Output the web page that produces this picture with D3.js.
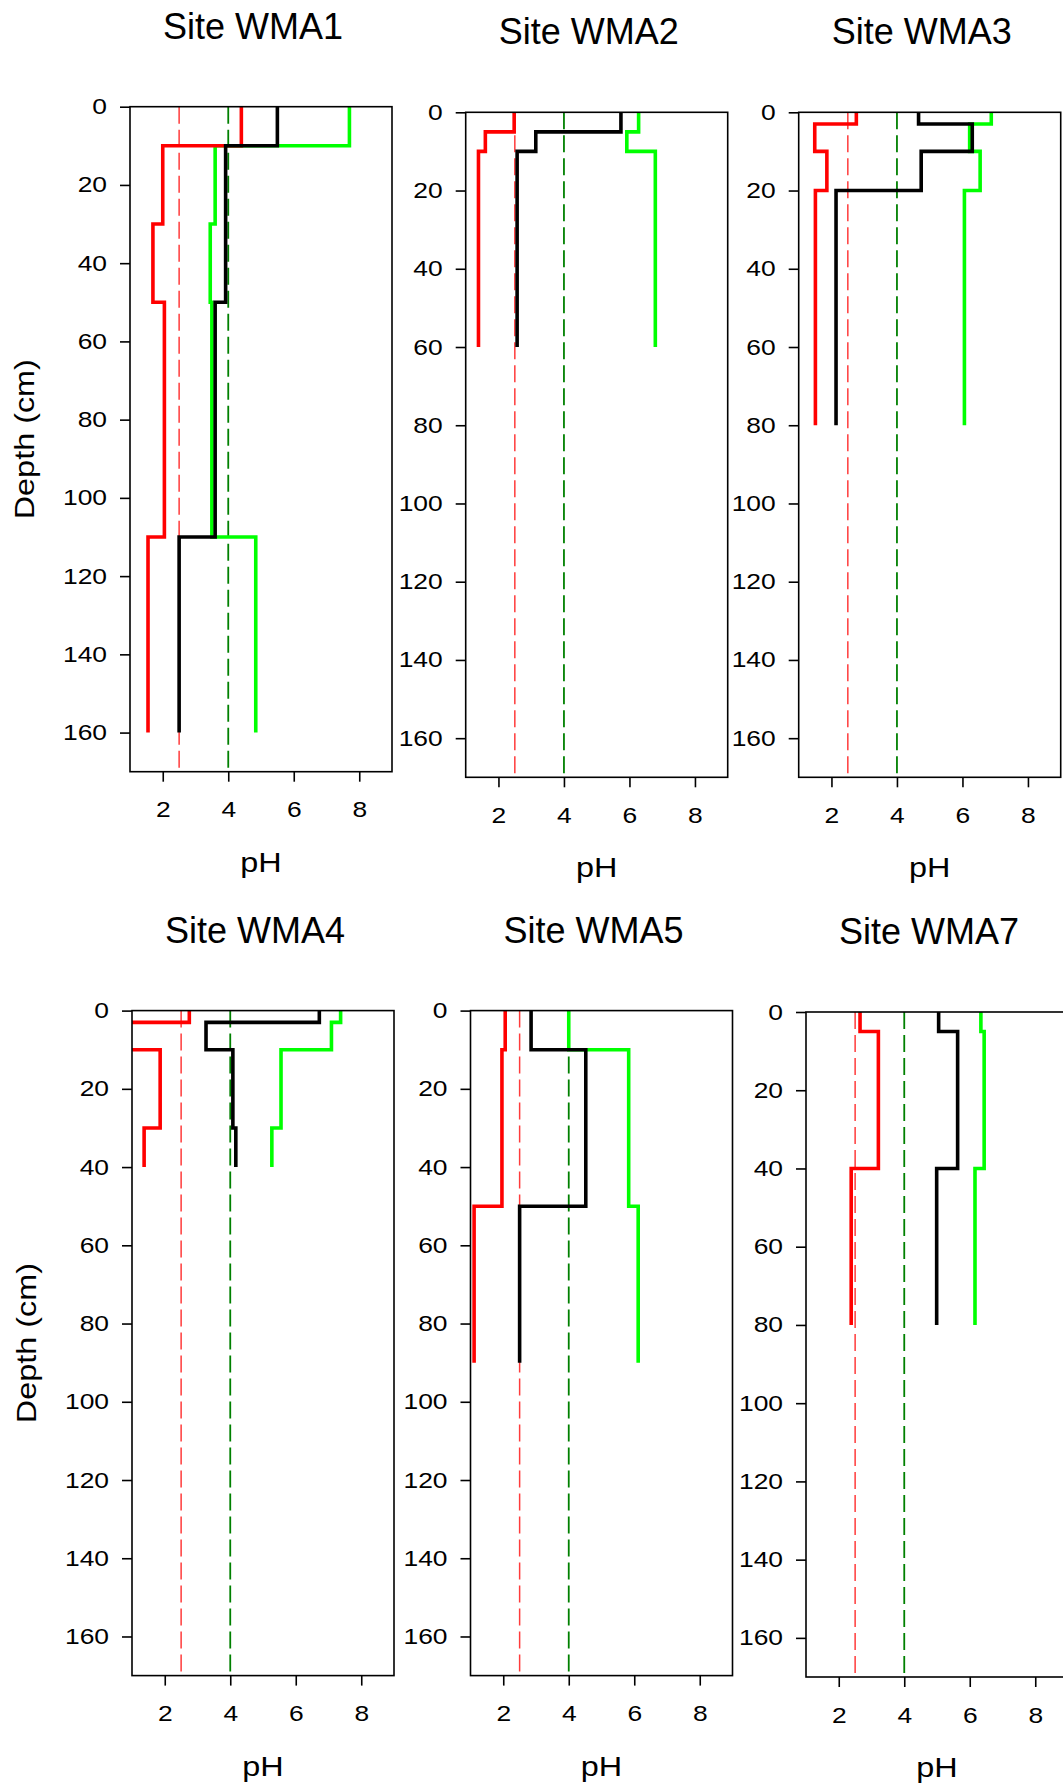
<!DOCTYPE html>
<html><head><meta charset="utf-8">
<script src="https://cdn.jsdelivr.net/npm/d3@7"></script>
<style>
body{margin:0;background:#fff;}
svg{display:block;}
text{font-family:"Liberation Sans",Arial,sans-serif;fill:#000;}
</style>
</head><body>
<svg id="chart" width="1063" height="1787"></svg>
<script>
// ---------- data ----------
const siteNames = ["Site WMA1","Site WMA2","Site WMA3","Site WMA4","Site WMA5","Site WMA7"];
const xTickValues = [2,4,6,8];
const yTickValues = [0,20,40,60,80,100,120,140,160];
const phDomain = [1,9];
const depthDomain = [0,170];
const refRedPH = 2.5;
const refGreenPH = 4.0;
const xLabel = "pH";
const yLabel = "Depth (cm)";

// layer boundaries (cm) and pH value of each layer
const wma1Depth = [0,10,30,50,110,160];
const wma1Red   = [4.4,2.0,1.7,2.05,1.55];
const wma1Black = [5.5,3.92,3.92,3.6,2.5];
const wma1Green = [7.7,3.6,3.45,3.5,4.84];

const wma2Depth = [0,5,10,60];
const wma2Red   = [2.48,1.6,1.39];
const wma2Black = [5.74,3.14,2.57];
const wma2Green = [6.28,5.92,6.79];

const wma3Depth = [0,3,10,20,80];
const wma3Red   = [2.76,1.49,1.86,1.51];
const wma3Black = [4.66,6.3,4.74,2.14];
const wma3Green = [6.88,6.22,6.54,6.06];

const wma4Depth = [0,3,10,30,40];
const wma4Red   = [2.75,0.8,1.86,1.37];
const wma4Black = [6.72,3.26,4.08,4.17];
const wma4Green = [7.37,7.09,5.55,5.27];

const wma5Depth = [0,10,50,90];
const wma5Red   = [2.06,1.96,1.11];
const wma5Black = [2.85,4.52,2.5];
const wma5Green = [4.0,5.83,6.12];

const wma7Depth = [0,5,40,80];
const wma7Red   = [2.65,3.21,2.38];
const wma7Black = [5.05,5.63,4.99];
const wma7Green = [6.34,6.44,6.16];

const siteDepths = [wma1Depth,wma2Depth,wma3Depth,wma4Depth,wma5Depth,wma7Depth];
const siteRed    = [wma1Red,wma2Red,wma3Red,wma4Red,wma5Red,wma7Red];
const siteBlack  = [wma1Black,wma2Black,wma3Black,wma4Black,wma5Black,wma7Black];
const siteGreen  = [wma1Green,wma2Green,wma3Green,wma4Green,wma5Green,wma7Green];

// ---------- layout ----------
const panelPos = [[130,106.7],[465.7,112.3],[798.7,112.3],[132,1010.6],[470.5,1010.6],[806,1012]];
const PW = 262, PH = 665;
const tickFont = 22, tickStretch = 1.2;
const labelFont = 27, labelStretch = 1.2;
const titleFont = 36;

const svg = d3.select("#chart");
const x = d3.scaleLinear().domain(phDomain).range([0,PW]);
const y = d3.scaleLinear().domain(depthDomain).range([0,PH]);

function stepPoints(depths, vals){
  const pts = [];
  vals.forEach((v,i)=>{ pts.push([v,depths[i]]); pts.push([v,depths[i+1]]); });
  return pts;
}
const line = d3.line().x(d=>x(d[0])).y(d=>y(d[1]));

siteNames.forEach((name,i)=>{
  const [px,py] = panelPos[i];
  const g = svg.append("g").attr("transform",`translate(${px},${py})`);
  const clipId = "clip"+i;
  g.append("clipPath").attr("id",clipId).append("rect")
    .attr("x",0).attr("y",-2).attr("width",PW).attr("height",PH+2);
  const plot = g.append("g").attr("clip-path",`url(#${clipId})`);

  // reference dashed lines
  plot.append("line").attr("x1",x(refRedPH)).attr("x2",x(refRedPH))
    .attr("y1",y(depthDomain[0])).attr("y2",y(depthDomain[1]))
    .attr("stroke","#ff3b3b").attr("stroke-width",1.5).attr("stroke-dasharray","17,6");
  plot.append("line").attr("x1",x(refGreenPH)).attr("x2",x(refGreenPH))
    .attr("y1",y(depthDomain[0])).attr("y2",y(depthDomain[1]))
    .attr("stroke","#008000").attr("stroke-width",1.8).attr("stroke-dasharray","17,6");

  const series = [[siteGreen[i],"#00ff00"],[siteRed[i],"#ff0000"],[siteBlack[i],"#000000"]];
  series.forEach(([vals,col])=>{
    plot.append("path").attr("d",line(stepPoints(siteDepths[i],vals)))
      .attr("fill","none").attr("stroke",col).attr("stroke-width",3.6)
      .attr("stroke-linejoin","miter").attr("stroke-linecap","butt");
  });

  // frame
  g.append("rect").attr("x",0).attr("y",0).attr("width",PW).attr("height",PH)
    .attr("fill","none").attr("stroke","#000").attr("stroke-width",1.6);

  // axes
  const ya = g.append("g").call(d3.axisLeft(y).tickValues(yTickValues).tickSize(10).tickPadding(13));
  const xa = g.append("g").attr("transform",`translate(0,${PH})`)
    .call(d3.axisBottom(x).tickValues(xTickValues).tickSize(10).tickPadding(20));
  [ya,xa].forEach(a=>{
    a.select(".domain").remove();
    a.selectAll(".tick line").attr("stroke","#000").attr("stroke-width",1.6);
    a.selectAll(".tick text").attr("font-size",tickFont)
      .attr("font-family","Liberation Sans, Arial, sans-serif").attr("fill","#000");
  });
  ya.selectAll(".tick text").attr("transform",function(){
    const tx = +d3.select(this).attr("x");
    return `translate(${tx},0) scale(${tickStretch},1) translate(${-tx},0)`;
  });
  xa.selectAll(".tick text").attr("transform",`scale(${tickStretch},1)`);

  // title
  g.append("text").attr("x",PW/2-8).attr("y",-68).attr("text-anchor","middle")
    .attr("font-size",titleFont).text(name);
  // x label
  g.append("text").attr("text-anchor","middle").attr("font-size",labelFont)
    .attr("transform",`translate(${PW/2},${PH+100}) scale(${labelStretch},1)`).text(xLabel);
  // y label only on first column
  if(i===0||i===3){
    g.append("text").attr("text-anchor","middle").attr("font-size",labelFont)
      .attr("transform",`translate(-96,${PH/2}) rotate(-90) scale(${labelStretch},1)`).text(yLabel);
  }
});
</script>
</body></html>
